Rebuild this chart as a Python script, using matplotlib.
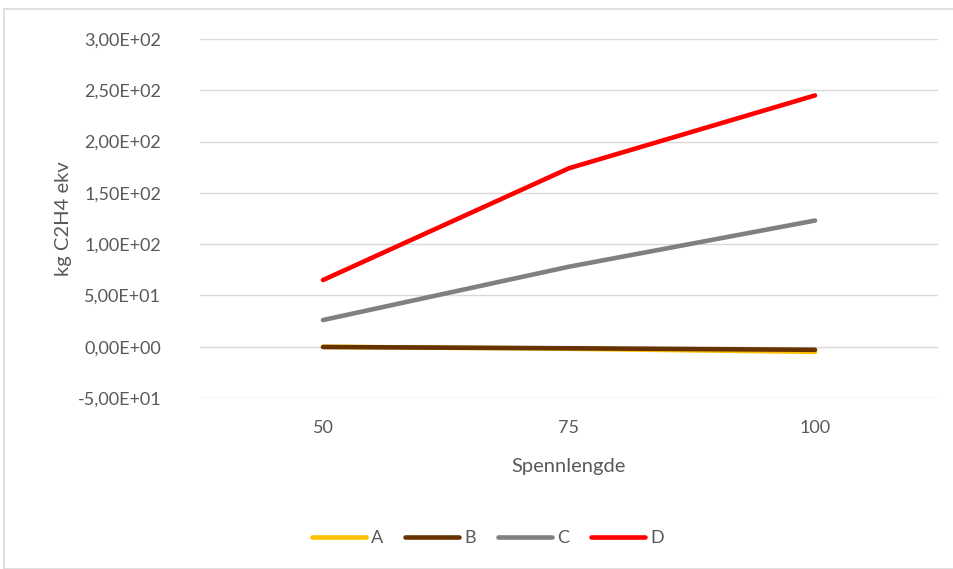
import matplotlib
matplotlib.use("Agg")
import matplotlib.pyplot as plt
from matplotlib.patches import Rectangle
from matplotlib.ticker import FuncFormatter

categories = ["50", "75", "100"]
series_names = ["A", "B", "C", "D"]
A = [0.0, -2.0, -5.0]
B = [-0.3, -1.5, -3.0]
C = [26.0, 78.0, 123.0]
D = [65.0, 174.0, 245.0]
colors = ["#FFC000", "#663300", "#808080", "#FF0000"]

plt.rcParams['font.family'] = ['Lato', 'DejaVu Sans']
W, H = 954, 569
fig = plt.figure(figsize=(W/100, H/100), dpi=100)
fig.patches.append(Rectangle((4/W, 0), 1, 1 - 9/H, transform=fig.transFigure,
                             fill=False, edgecolor="#D9D9D9", linewidth=1.2))
ax = fig.add_axes([200/W, 1 - 398/H, (938-200)/W, (398-39)/H])

x = list(range(len(categories)))
for name, vals, c in zip(series_names, [A, B, C, D], colors):
    ax.plot(x, vals, color=c, linewidth=3.3, label=name, solid_capstyle='round')

ax.set_xlim(-0.5, 2.5)
ax.set_ylim(-50, 300)
ax.set_yticks(range(-50, 301, 50))
ax.yaxis.set_major_formatter(FuncFormatter(
    lambda v, p: ("%.2E" % v).replace(".", ",")))
ax.set_xticks(x)
ax.set_xticklabels(categories)
ax.grid(axis='y', color="#D9D9D9", linewidth=1)
ax.set_axisbelow(True)
for s in ax.spines.values():
    s.set_visible(False)
ax.tick_params(length=0, colors="#595959", labelsize=13)
ax.tick_params(axis='y', pad=28)
ax.tick_params(axis='x', pad=16)
ax.set_xlabel("Spennlengde", color="#595959", fontsize=14.5, labelpad=16)
ax.set_ylabel("kg C2H4 ekv", color="#595959", fontsize=14.5, labelpad=4)

leg = fig.legend(loc='center', bbox_to_anchor=(488/W, 1 - 538/H), ncol=4,
                 frameon=False, fontsize=13, handlelength=3.0, handletextpad=0.3,
                 columnspacing=1.2)
for t in leg.get_texts():
    t.set_color("#595959")

fig.savefig("out.png", dpi=100)
